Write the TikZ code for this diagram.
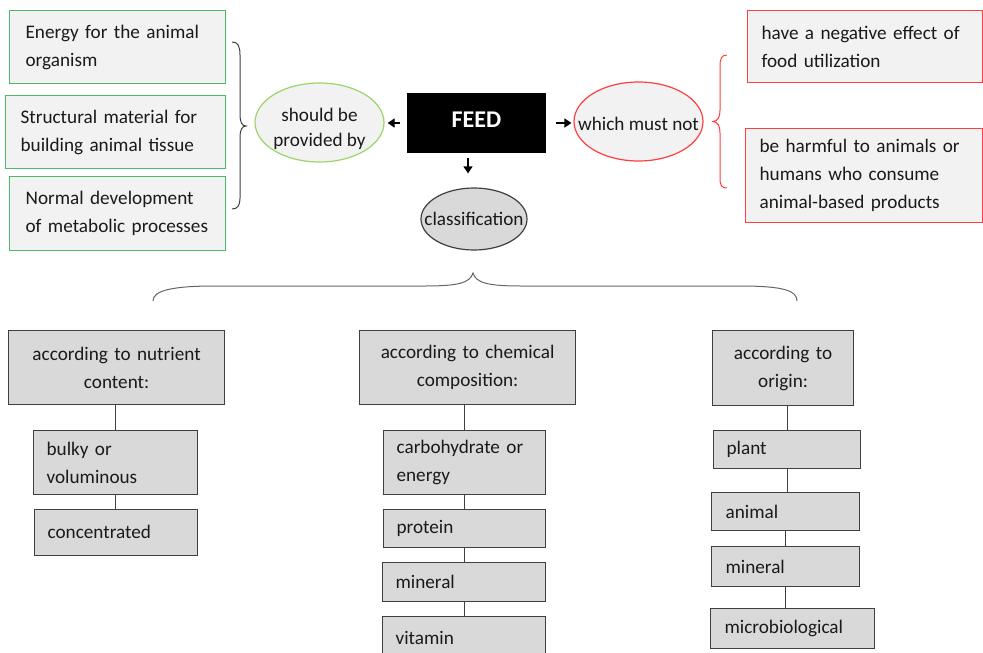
\documentclass[tikz,border=0pt]{standalone}
\usepackage{fontspec}
\setmainfont{Carlito}
\usetikzlibrary{arrows.meta,shapes.geometric}
\definecolor{gborder}{HTML}{4DB86A}
\definecolor{lgreen}{HTML}{9BD56A}
\definecolor{rborder}{HTML}{FF3F3F}
\definecolor{lightfill}{HTML}{F2F2F2}
\definecolor{grayfill}{HTML}{D9D9D9}
\definecolor{edge}{HTML}{3F3F3F}
\definecolor{txt}{HTML}{1A1A1A}
\hyphenpenalty=10000
\begin{document}
\begin{tikzpicture}[x=1pt,y=-1pt,
  every node/.style={font=\fontsize{19.2}{28}\selectfont, text=txt},
  base/.style={rectangle, anchor=north west, inner ysep=0pt, line width=1.2pt},
  gbox/.style={base, draw=gborder, fill=lightfill, align=left},
  rbox/.style={base, draw=rborder, fill=lightfill, align=left},
  hbox/.style={base, draw=edge, fill=grayfill, align=center},
  cbox/.style={base, draw=edge, fill=grayfill, align=left},
  oval/.style={ellipse, inner sep=0pt, line width=1.2pt},
  link/.style={draw=edge, line width=1pt},
  arr/.style={-{Triangle[length=7pt,width=9pt]}, line width=1.2pt, draw=black},
  brace/.style={line width=1pt}]
\useasboundingbox (0,0) rectangle (983,653);
\clip (0,0) rectangle (983,653);

% left green boxes
\node[gbox, inner xsep=16pt, text width=184pt, minimum height=73pt] (g1) at (9,10) {\mbox{Energy for the animal}\\\mbox{organism}};
\node[gbox, inner xsep=15pt, text width=190pt, minimum height=73pt] (g2) at (5,95) {\mbox{Structural material for}\\\mbox{building animal tissue}};
\node[gbox, inner xsep=16pt, text width=184pt, minimum height=74pt] (g3) at (9,176) {\mbox{Normal development}\\\mbox{of metabolic processes}};

% left brace
\draw[brace, draw=edge] (232,42) .. controls (238,42) and (240,46) .. (240,55) -- (240,115)
  .. controls (240,122) and (242,126) .. (246,126)
  .. controls (242,126) and (240,130) .. (240,137) -- (240,198)
  .. controls (240,205) and (238,209) .. (232,209);

% ellipses and FEED
\node[oval, draw=lgreen, fill=lightfill, minimum width=129pt, minimum height=79pt,
  label={[align=center, font=\fontsize{19.2}{25}\selectfont, text=txt, yshift=-6pt]center:should be\\provided by}] (prov) at (319.5,122.5) {};
\node[rectangle, fill=black, minimum width=139pt, minimum height=60pt, inner sep=0pt,
  text=white, font=\fontsize{24}{28}\bfseries] (feed) at (476.5,123) {\raisebox{6pt}{FEED}};
\node[oval, draw=rborder, fill=lightfill, minimum width=129pt, minimum height=79pt,
  label={[text=txt, yshift=-2pt]center:which must not}] (must) at (638.5,121.5) {};
\node[oval, draw=edge, fill=grayfill, minimum width=106pt, minimum height=62pt,
  label={[text=txt]center:classification}] (cls) at (474,219) {};

\draw[arr, shorten <=7pt, shorten >=3pt] (feed.west) -- (feed.west -| prov.east);
\draw[arr, shorten <=10pt, shorten >=2pt] (feed.east) -- (feed.east -| must.west);
\draw[arr, shorten <=5pt, shorten >=14pt] ([xshift=-8.5pt]feed.south) -- ([xshift=-8.5pt]feed.south |- cls.north);

% red brace
\draw[brace, draw=rborder] (727,55) .. controls (722,55) and (720,58) .. (720,66) -- (720,110)
  .. controls (720,117) and (718,121) .. (713,121.5)
  .. controls (718,122) and (720,126) .. (720,133) -- (720,178)
  .. controls (720,186) and (722,188) .. (727,188);

% right red boxes
\node[rbox, inner xsep=14pt, text width=207pt, minimum height=72pt] (rA) at (747,10) {\mbox{have a negative effect of}\\\mbox{food utilization}};
\node[rbox, inner xsep=14pt, text width=209pt, minimum height=94pt] (rB) at (745,128) {\mbox{be harmful to animals or}\\\mbox{humans who consume}\\\mbox{animal-based products}};

% big brace
\draw[brace, draw=edge!80] (153,301) .. controls (153,291) and (170,286) .. (215,286) -- (425,286)
  .. controls (458,286) and (470,283) .. (473,273)
  .. controls (476,283) and (488,286) .. (521,286) -- (740,286)
  .. controls (785,286) and (797,291) .. (797,301);

% column 1
\node[hbox, inner xsep=8pt, text width=200pt, minimum height=74pt] (h1) at (8,330) {according to nutrient\\content:};
\node[cbox, inner xsep=13pt, text width=138pt, minimum height=64pt] (c1a) at (33,430) {\mbox{bulky or}\\\mbox{voluminous}};
\node[cbox, inner xsep=13pt, text width=137pt, minimum height=46pt] (c1b) at (34,509) {\raisebox{2pt}{concentrated}};
\draw[link] (c1a.north) -- (c1a.north |- h1.south);
\draw[link] (c1a.south) -- (c1a.south |- c1b.north);

% column 2
\node[hbox, inner xsep=8pt, text width=200pt, minimum height=74pt] (h2) at (359,330) {according to chemical\\composition:};
\node[cbox, inner xsep=13pt, text width=136pt, minimum height=64pt] (c2a) at (383,430) {\mbox{carbohydrate or}\\\mbox{energy}};
\node[cbox, inner xsep=13pt, text width=136pt, minimum height=38pt] (c2b) at (383,509) {protein};
\node[cbox, inner xsep=13pt, text width=137pt, minimum height=39pt] (c2c) at (382,562) {mineral};
\node[cbox, inner xsep=13pt, text width=137pt, minimum height=42pt] (c2d) at (382,616) {vitamin};
\draw[link] (c2a.north) -- (c2a.north |- h2.south);
\draw[link] (c2a.south) -- (c2a.south |- c2b.north);
\draw[link] (c2b.south) -- (c2b.south |- c2c.north);
\draw[link] (c2c.south) -- (c2c.south |- c2d.north);

% column 3
\node[hbox, inner xsep=8pt, text width=125pt, minimum height=75pt] (h3) at (712,330) {according to\\origin:};
\node[cbox, inner xsep=13pt, text width=121pt, minimum height=38pt] (c3a) at (713,430) {plant};
\node[cbox, inner xsep=14pt, text width=120pt, minimum height=38pt] (c3b) at (711,492) {animal};
\node[cbox, inner xsep=14pt, text width=120pt, minimum height=40pt] (c3c) at (711,546) {mineral};
\node[cbox, inner xsep=14pt, text width=136pt, minimum height=40pt] (c3d) at (710,608) {microbiological};
\draw[link] (c3a.north) -- (c3a.north |- h3.south);
\draw[link] (c3a.south) -- (c3a.south |- c3b.north);
\draw[link] (c3b.south) -- (c3b.south |- c3c.north);
\draw[link] (c3c.south) -- (c3c.south |- c3d.north);
\end{tikzpicture}
\end{document}
